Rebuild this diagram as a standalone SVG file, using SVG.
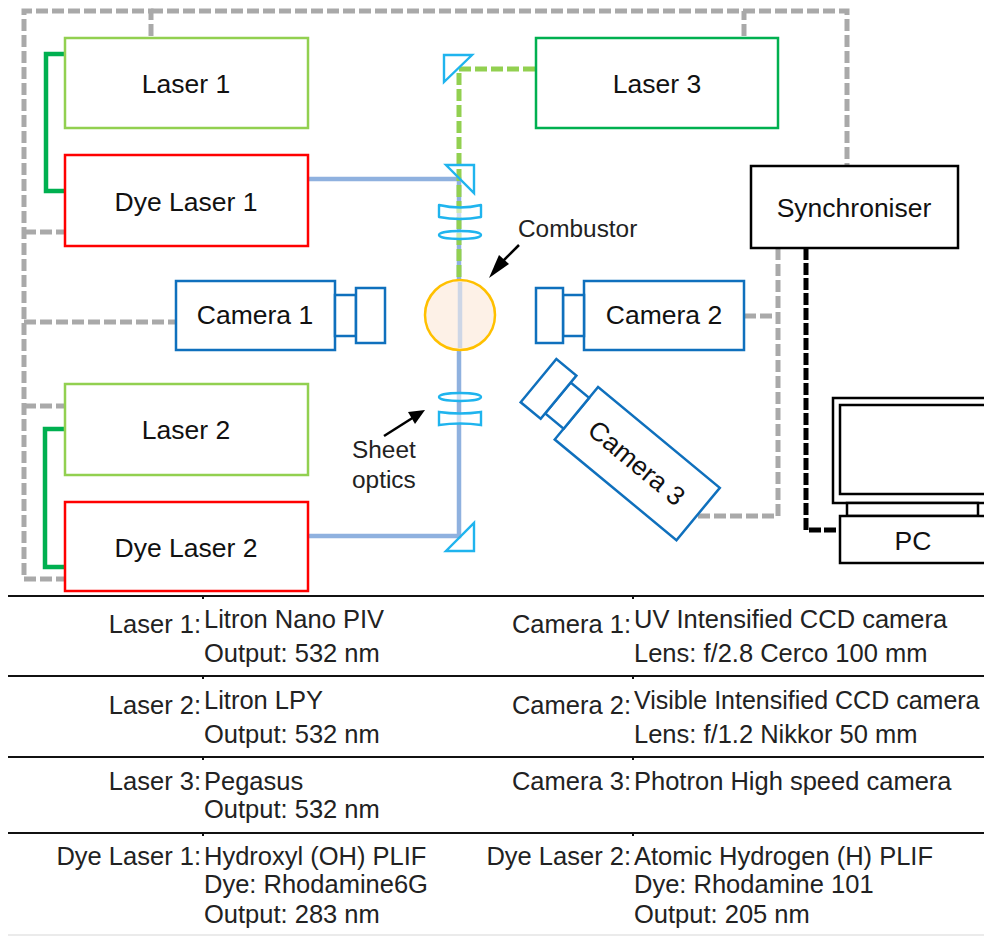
<svg xmlns="http://www.w3.org/2000/svg" width="984" height="936" viewBox="0 0 984 936">
<style>
text{font-family:"Liberation Sans",Arial,sans-serif;fill:#111}
.n{font-size:26.5px;text-anchor:middle}
.a{font-size:24.4px;fill:#222}
.t{font-size:25.5px;fill:#222}
.r{text-anchor:end}
.line{fill:none}
.box{fill:#fff;stroke-width:2.5}
.g{fill:none;stroke:#a9a9a9;stroke-width:5;stroke-dasharray:12 4}
.o{fill:#fff;fill-opacity:.55;stroke:#1fb4ee;stroke-width:2.4}
.m{fill:none;stroke:#1fb4ee;stroke-width:2.4}
.b{fill:none;stroke:#8fb1df;stroke-width:4.5}
.cam{stroke:#0f70bd;stroke-width:2.5;fill:#fff}
.k{stroke:#000;stroke-width:2.5;fill:#fff}
.rule{fill:none;stroke:#111;stroke-width:2}
.ar{fill:#000}
</style>
<g id="connectors">
<path class="g" d="M151 36V11H24V579H65"/>
<path class="g" d="M151 11H847V165"/>
<path class="g" d="M744 36V11"/>
<path class="g" d="M24 232H65"/>
<path class="g" d="M24 322H176"/>
<path class="g" d="M24 406H65"/>
<path class="g" d="M744 316H778"/>
<path class="g" d="M778 248V516H696"/>
<path class="line" d="M806 248V530H840" stroke="#000" stroke-width="5" stroke-dasharray="12 3"/>
<path class="line" d="M65 54H46V191H65" stroke="#00b050" stroke-width="4.5"/>
<path class="line" d="M65 429H45V567H65" stroke="#00b050" stroke-width="4.5"/>
<path class="b" d="M309 179H459V536H309"/>
<path class="line" d="M535 69H459V284" stroke="#92d050" stroke-width="5" stroke-dasharray="12 4"/>
</g>
<g id="laser1"><rect class="box" x="65" y="38" width="243" height="90" stroke="#92d050"/><text class="n" x="186" y="93">Laser 1</text></g>
<g id="dye1"><rect class="box" x="65" y="155" width="243" height="91" stroke="#f00"/><text class="n" x="186" y="211">Dye Laser 1</text></g>
<g id="laser2"><rect class="box" x="65" y="384" width="243" height="91" stroke="#92d050"/><text class="n" x="186" y="439">Laser 2</text></g>
<g id="dye2"><rect class="box" x="65" y="502" width="243" height="89" stroke="#f00"/><text class="n" x="186" y="557">Dye Laser 2</text></g>
<g id="laser3"><rect class="box" x="536" y="38" width="242" height="90" stroke="#00b050"/><text class="n" x="657" y="93">Laser 3</text></g>
<g id="sync"><rect class="k" x="751" y="166" width="207" height="82"/><text class="n" x="854" y="217">Synchroniser</text></g>
<g id="camera1"><rect class="cam" x="176" y="281" width="159" height="69"/><rect class="cam" x="335" y="295" width="21" height="41"/><rect class="cam" x="356" y="288" width="29" height="55"/><text class="n" x="255" y="324">Camera 1</text></g>
<g id="camera2"><rect class="cam" x="584" y="281" width="160" height="69"/><rect class="cam" x="563" y="295" width="21" height="41"/><rect class="cam" x="536" y="288" width="27" height="55"/><text class="n" x="664" y="324">Camera 2</text></g>
<g id="camera3" transform="translate(636.5 463) rotate(39.6)"><rect class="cam" x="-78" y="-34" width="158" height="68"/><rect class="cam" x="-102" y="-20" width="24" height="40"/><rect class="cam" x="-128" y="-29" width="26" height="56"/><text class="n" x="0" y="9">Camera 3</text></g>
<g id="combustor"><circle cx="460" cy="315" r="35" fill="#fdf1e7" stroke="#ffc000" stroke-width="2.5"/><path class="line" d="M460 282V348" stroke="#cdd6e6" stroke-width="4.5"/></g>
<g id="optics">
<path class="m" d="M444 55H472L444 82Z"/>
<path class="m" d="M446 165H474V193Z"/>
<path class="o" d="M439 205Q460 210 481 205V217Q460 221 439 217Z" stroke-linejoin="round"/>
<ellipse class="o" cx="460" cy="235" rx="21" ry="4"/>
<ellipse class="o" cx="460" cy="397" rx="21" ry="4"/>
<path class="o" d="M439 412Q460 415 481 412V425Q460 422 439 425Z"/>
<path class="m" d="M474 523V551H446Z"/>
</g>
<g id="pc">
<rect class="k" x="833" y="398" width="160" height="105"/>
<rect class="k" x="840" y="405" width="150" height="89"/>
<rect class="k" x="847" y="503" width="131" height="13"/>
<rect class="k" x="840" y="516" width="150" height="47"/>
<text class="n" x="913" y="550">PC</text>
</g>
<g id="annotations">
<text x="518" y="237" class="a">Combustor</text>
<path class="line" d="M519 245L497 267" stroke="#000" stroke-width="2.5"/><path class="ar" d="M489 278L509 264L499 255Z"/>
<path class="line" d="M384 436L414 417" stroke="#000" stroke-width="2.5"/><path class="ar" d="M425 410L408 412L415 424Z"/>
<text x="352" y="458" class="a">Sheet</text><text x="352" y="488" class="a">optics</text>
</g>
<g id="table">
<path class="rule" d="M8 596H984M8 676H984M8 757H984M8 833H984M203 596v3M633 596v3M203 676v3M633 676v3M203 757v3M633 757v3M203 833v3M633 833v3"/>
<path class="line" stroke="#e4e4e4" stroke-width="1.5" d="M8 935H984"/>
<text class="t r" x="201" y="633">Laser 1:</text><text class="t" x="204" y="628">Litron Nano PIV</text><text class="t" x="204" y="662">Output: 532 nm</text>
<text class="t r" x="201" y="714">Laser 2:</text><text class="t" x="204" y="709">Litron LPY</text><text class="t" x="204" y="743">Output: 532 nm</text>
<text class="t r" x="201" y="790">Laser 3:</text><text class="t" x="204" y="790">Pegasus</text><text class="t" x="204" y="818">Output: 532 nm</text>
<text class="t r" x="201" y="865">Dye Laser 1:</text><text class="t" x="204" y="865">Hydroxyl (OH) PLIF</text><text class="t" x="204" y="893">Dye: Rhodamine6G</text><text class="t" x="204" y="923">Output: 283 nm</text>
<text class="t r" x="631" y="633">Camera 1:</text><text class="t" x="634" y="628">UV Intensified CCD camera</text><text class="t" x="634" y="662">Lens: f/2.8 Cerco 100 mm</text>
<text class="t r" x="631" y="714">Camera 2:</text><text class="t" x="634" y="709" style="font-size:25px">Visible Intensified CCD camera</text><text class="t" x="634" y="743">Lens: f/1.2 Nikkor 50 mm</text>
<text class="t r" x="631" y="790">Camera 3:</text><text class="t" x="634" y="790">Photron High speed camera</text>
<text class="t r" x="631" y="865">Dye Laser 2:</text><text class="t" x="634" y="865">Atomic Hydrogen (H) PLIF</text><text class="t" x="634" y="893">Dye: Rhodamine 101</text><text class="t" x="634" y="923">Output: 205 nm</text>
</g>
</svg>
